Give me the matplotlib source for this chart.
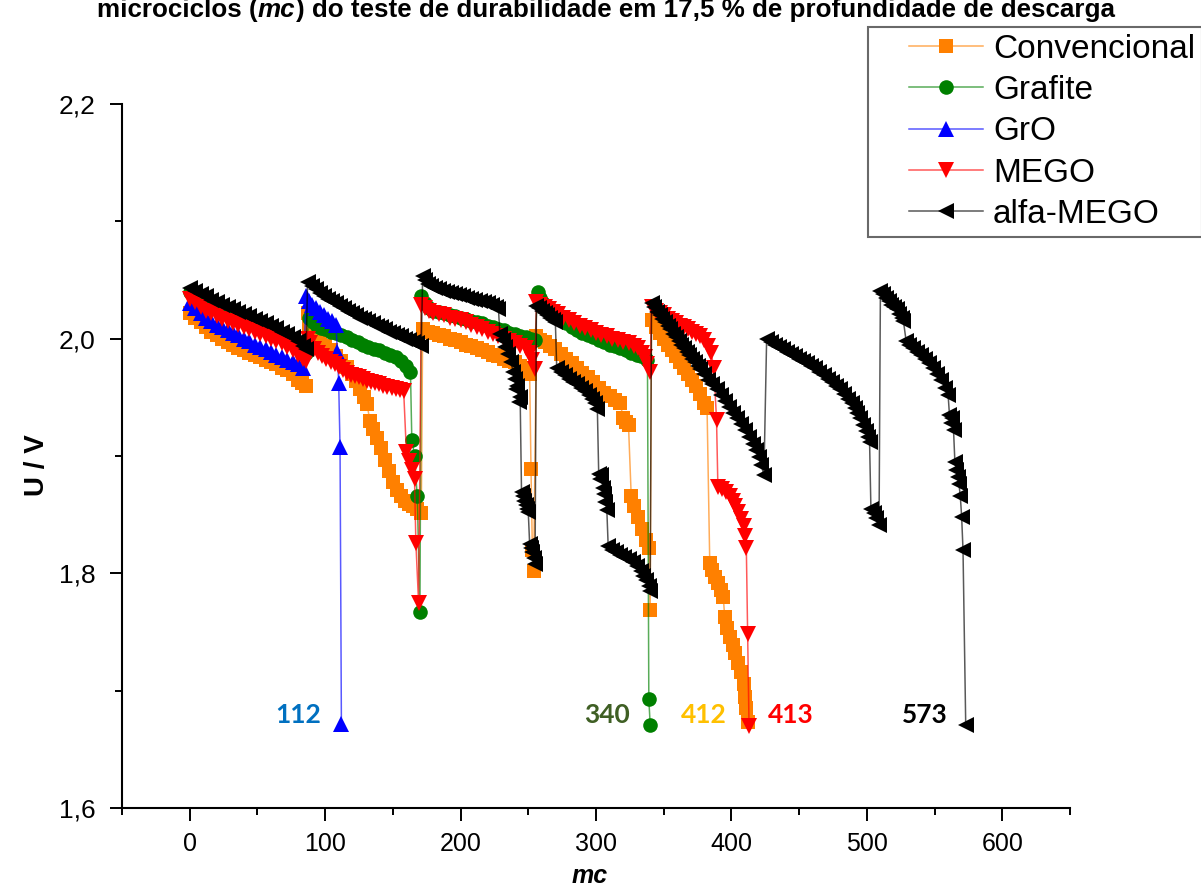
import matplotlib
matplotlib.use("Agg")
import matplotlib.pyplot as plt
from matplotlib.ticker import MultipleLocator, FuncFormatter
from matplotlib.legend_handler import HandlerLine2D

plt.rcParams['font.family'] = ['Liberation Sans', 'DejaVu Sans']

# ---- data: microcycle number (mc) and cell voltage U / V ----
conv_mc = [0, 4, 8, 12, 16, 20, 24, 28, 32, 36, 40, 44, 48, 52, 56, 60, 64, 68, 72, 76, 80, 83, 86,
           87, 88, 90, 93, 96, 100, 104, 108, 112, 116, 120, 123, 126, 129, 131, 133, 135, 138, 141, 144, 147, 150, 153, 156, 159, 162, 165, 168, 171,
           172, 176, 180, 184, 188, 192, 196, 200, 204, 208, 212, 216, 220, 224, 228, 232, 236, 240, 244, 248, 251, 252, 253, 254,
           256, 259, 262, 266, 270, 274, 278, 282, 286, 290, 294, 298, 302, 306, 310, 314, 318, 320, 322, 324, 326, 328, 331, 334, 337, 339, 340,
           341, 344, 347, 350, 353, 356, 359, 362, 365, 368, 371, 374, 377, 380, 382, 384, 386, 388, 390, 392, 394, 395, 397, 399, 401, 403, 405, 407, 409, 410, 411, 412]
conv_u = [2.022, 2.018, 2.014, 2.010, 2.006, 2.003, 2.000, 1.997, 1.995, 1.992, 1.990, 1.988, 1.986, 1.984, 1.982, 1.980, 1.978, 1.975, 1.973, 1.970, 1.965, 1.962, 1.960,
          2.022, 2.012, 2.005, 2.000, 1.997, 1.994, 1.990, 1.985, 1.981, 1.976, 1.970, 1.964, 1.957, 1.950, 1.944, 1.930, 1.923, 1.915, 1.907, 1.897, 1.887, 1.878, 1.871, 1.866, 1.862, 1.859, 1.857, 1.855, 1.851,
          2.008, 2.006, 2.005, 2.003, 2.002, 2.000, 1.999, 1.997, 1.995, 1.994, 1.992, 1.990, 1.989, 1.986, 1.985, 1.983, 1.981, 1.980, 1.977, 1.975, 1.970, 1.889, 1.820, 1.802,
          2.002, 1.999, 1.997, 1.994, 1.991, 1.987, 1.983, 1.979, 1.975, 1.971, 1.967, 1.963, 1.958, 1.954, 1.951, 1.948, 1.945, 1.932, 1.929, 1.926, 1.866, 1.857, 1.848, 1.838, 1.828, 1.822, 1.769,
          2.016, 2.010, 2.005, 2.000, 1.995, 1.990, 1.985, 1.980, 1.975, 1.970, 1.965, 1.960, 1.953, 1.945, 1.941, 1.809, 1.803, 1.797, 1.792, 1.786, 1.780, 1.763, 1.753, 1.746, 1.739, 1.732, 1.724, 1.716, 1.706, 1.695, 1.685, 1.673]

graf_mc = [0, 4, 8, 12, 16, 20, 24, 28, 32, 36, 40, 44, 48, 52, 56, 60, 64, 68, 72, 76, 80, 84, 86,
           88, 91, 94, 97, 100, 104, 108, 112, 116, 120, 124, 128, 132, 136, 140, 144, 148, 152, 156, 160, 163, 164, 166, 168, 170,
           171, 174, 177, 180, 184, 188, 192, 196, 200, 204, 208, 212, 216, 220, 224, 228, 232, 236, 240, 244, 248, 252, 255,
           257, 259, 261, 264, 267, 270, 274, 278, 282, 286, 290, 294, 298, 302, 306, 310, 314, 318, 322, 326, 330, 333, 336, 338, 339, 340]
graf_u = [2.040, 2.038, 2.035, 2.033, 2.030, 2.028, 2.026, 2.024, 2.022, 2.020, 2.018, 2.016, 2.014, 2.012, 2.010, 2.008, 2.006, 2.003, 2.001, 1.998, 1.995, 1.991, 1.988,
          2.018, 2.014, 2.011, 2.009, 2.008, 2.006, 2.005, 2.003, 2.001, 1.999, 1.997, 1.995, 1.993, 1.991, 1.990, 1.988, 1.986, 1.984, 1.981, 1.977, 1.972, 1.914, 1.900, 1.866, 1.767,
          2.036, 2.030, 2.026, 2.024, 2.023, 2.022, 2.020, 2.019, 2.018, 2.017, 2.015, 2.014, 2.013, 2.011, 2.010, 2.008, 2.007, 2.005, 2.004, 2.002, 2.001, 2.000, 1.999,
          2.040, 2.035, 2.030, 2.025, 2.022, 2.019, 2.016, 2.013, 2.010, 2.007, 2.005, 2.003, 2.001, 1.999, 1.997, 1.995, 1.994, 1.992, 1.990, 1.988, 1.986, 1.985, 1.984, 1.982, 1.693, 1.671]

gro_mc = [0, 4, 8, 12, 16, 20, 24, 28, 32, 36, 40, 44, 48, 52, 56, 60, 64, 68, 72, 76, 80, 84,
          86, 88, 90, 93, 96, 99, 102, 105, 108, 109, 110, 111, 112]
gro_u = [2.030, 2.026, 2.022, 2.018, 2.015, 2.012, 2.010, 2.007, 2.005, 2.003, 2.000, 1.998, 1.995, 1.993, 1.991, 1.989, 1.986, 1.984, 1.982, 1.980, 1.978, 1.975,
         2.036, 2.032, 2.029, 2.026, 2.023, 2.020, 2.017, 2.015, 2.012, 1.989, 1.962, 1.908, 1.672]

mego_mc = [0, 4, 8, 12, 16, 20, 24, 28, 32, 36, 40, 44, 48, 52, 56, 60, 64, 68, 72, 76, 80, 84, 86,
           87, 89, 92, 95, 98, 101, 104, 107, 110, 113, 116, 119, 122, 125, 128, 131, 134, 137, 140, 143, 146, 149, 152, 155, 158, 160, 162, 164, 166, 167, 169,
           171, 174, 177, 180, 184, 188, 192, 196, 200, 204, 208, 212, 216, 220, 224, 228, 232, 236, 240, 244, 248, 251, 253, 255,
           256, 259, 262, 265, 268, 272, 276, 280, 284, 288, 292, 296, 300, 304, 308, 312, 316, 320, 324, 328, 331, 334, 336, 338, 340,
           341, 344, 347, 350, 353, 356, 359, 362, 365, 368, 371, 374, 377, 380, 383, 385, 387, 389, 390, 393, 396, 399, 401, 403, 405, 407, 409, 410, 411, 412, 413]
mego_u = [2.034, 2.031, 2.027, 2.024, 2.022, 2.019, 2.017, 2.015, 2.013, 2.012, 2.010, 2.008, 2.006, 2.004, 2.002, 2.000, 1.998, 1.996, 1.993, 1.990, 1.986, 1.983, 1.981,
          2.000, 1.996, 1.991, 1.988, 1.985, 1.983, 1.980, 1.978, 1.976, 1.973, 1.971, 1.969, 1.968, 1.967, 1.966, 1.964, 1.963, 1.962, 1.961, 1.960, 1.959, 1.958, 1.957, 1.956, 1.955, 1.903, 1.896, 1.888, 1.880, 1.826, 1.775,
          2.029, 2.026, 2.024, 2.022, 2.021, 2.020, 2.018, 2.017, 2.016, 2.014, 2.012, 2.010, 2.008, 2.006, 2.004, 2.002, 2.000, 1.998, 1.996, 1.994, 1.992, 1.988, 1.982, 1.974,
          2.031, 2.029, 2.027, 2.025, 2.023, 2.021, 2.018, 2.016, 2.013, 2.011, 2.009, 2.007, 2.005, 2.003, 2.002, 2.000, 1.999, 1.997, 1.996, 1.994, 1.992, 1.988, 1.984, 1.978, 1.972,
          2.027, 2.024, 2.022, 2.020, 2.017, 2.015, 2.013, 2.011, 2.010, 2.008, 2.006, 2.004, 2.002, 1.999, 1.994, 1.988, 1.975, 1.931, 1.874, 1.872, 1.869, 1.866, 1.862, 1.857, 1.852, 1.846, 1.840, 1.832, 1.822, 1.748, 1.670]

alfa_mc = [0, 4, 8, 12, 16, 20, 24, 28, 32, 36, 40, 44, 48, 52, 56, 60, 64, 68, 72, 76, 80, 84, 86,
           87, 90, 93, 96, 99, 102, 105, 108, 111, 114, 117, 120, 123, 126, 129, 132, 135, 138, 141, 144, 147, 150, 153, 156, 159, 162, 165, 168, 171,
           172, 174, 176, 178, 181, 184, 187, 190, 193, 196, 199, 202, 205, 208, 211, 214, 217, 220, 223, 226, 228,
           229, 231, 233, 235, 237, 239, 240, 241, 242, 243, 244, 245, 246, 247, 248, 249, 250, 251, 252, 253, 254, 255,
           256, 258, 260, 262, 264, 266, 268, 270, 271, 274, 277, 280, 283, 286, 289, 292, 295, 297, 299, 301,
           302, 303, 304, 305, 306, 307, 308, 309, 312, 315, 318, 321, 324, 327, 330, 333, 335, 337, 339, 340,
           341, 343, 345, 347, 349, 351, 353, 355, 357, 359, 361, 363, 365, 367, 369, 371, 373, 375, 377,
           380, 383, 386, 389, 392, 395, 398, 401, 404, 407, 410, 413, 416, 418, 420, 422, 424,
           426, 429, 432, 435, 438, 441, 444, 447, 450, 453, 456, 459, 462, 465, 468, 471, 474, 477, 480, 483, 486, 489,
           491, 493, 495, 497, 499, 501, 502, 503, 505, 507, 509,
           510, 512, 514, 516, 518, 520, 522, 524, 526, 527, 529, 531, 534, 537, 540, 543, 546, 549, 552, 555, 558, 560,
           561, 562, 563, 564, 565, 566, 567, 568, 569, 570, 571, 573]
alfa_u = [2.043, 2.041, 2.038, 2.036, 2.033, 2.031, 2.029, 2.027, 2.025, 2.023, 2.021, 2.019, 2.017, 2.015, 2.013, 2.011, 2.009, 2.006, 2.004, 2.001, 1.998, 1.994, 1.991,
          2.048, 2.045, 2.042, 2.039, 2.036, 2.034, 2.032, 2.030, 2.028, 2.026, 2.024, 2.022, 2.020, 2.018, 2.017, 2.015, 2.013, 2.011, 2.010, 2.008, 2.006, 2.005, 2.003, 2.002, 2.000, 1.999, 1.997, 1.996, 1.994,
          2.053, 2.050, 2.047, 2.045, 2.043, 2.042, 2.041, 2.040, 2.039, 2.038, 2.037, 2.036, 2.035, 2.034, 2.033, 2.032, 2.031, 2.030, 2.029, 2.027, 2.025,
          2.004, 1.999, 1.993, 1.987, 1.980, 1.972, 1.966, 1.957, 1.960, 1.946, 1.950, 1.869, 1.866, 1.862, 1.858, 1.855, 1.852, 1.825, 1.822, 1.818, 1.813, 1.808,
          2.028, 2.026, 2.024, 2.022, 2.020, 2.018, 2.016, 2.014, 1.975, 1.972, 1.969, 1.966, 1.963, 1.961, 1.958, 1.955, 1.952, 1.949, 1.945, 1.940,
          1.885, 1.880, 1.884, 1.873, 1.868, 1.861, 1.854, 1.823, 1.820, 1.818, 1.816, 1.814, 1.812, 1.810, 1.806, 1.802, 1.798, 1.794, 1.789, 1.785,
          2.030, 2.027, 2.023, 2.020, 2.017, 2.014, 2.011, 2.008, 2.004, 2.001, 1.998, 1.995, 1.992, 1.989, 1.986, 1.983, 1.980, 1.977, 1.974,
          1.970, 1.965, 1.961, 1.957, 1.952, 1.947, 1.942, 1.937, 1.932, 1.927, 1.922, 1.916, 1.910, 1.905, 1.899, 1.892, 1.884,
          2.000, 1.997, 1.995, 1.993, 1.991, 1.989, 1.987, 1.985, 1.983, 1.981, 1.979, 1.977, 1.975, 1.972, 1.969, 1.966, 1.963, 1.960, 1.957, 1.953, 1.949, 1.945,
          1.941, 1.937, 1.932, 1.926, 1.921, 1.916, 1.912, 1.855, 1.851, 1.847, 1.841,
          2.041, 2.038, 2.035, 2.032, 2.029, 2.027, 2.025, 2.021, 2.018, 2.015, 1.998, 1.995, 1.992, 1.989, 1.986, 1.983, 1.979, 1.975, 1.970, 1.965, 1.958, 1.952,
          1.935, 1.928, 1.932, 1.922, 1.895, 1.888, 1.882, 1.876, 1.866, 1.848, 1.820, 1.671]

series_names = ["Convencional", "Grafite", "GrO", "MEGO", "alfa-MEGO"]
y_ticks = [1.6, 1.8, 2.0, 2.2]

# ---- figure ----
fig = plt.figure(figsize=(12.01, 8.86), dpi=100)
ax = fig.add_axes([122 / 1201, 1 - 808 / 886, (1070 - 122) / 1201, (808 - 104) / 886])

styles = [
    ("#FF8000", "s", 10.0),
    ("#008000", "o", 10.5),
    ("#0000FF", "^", 12.0),
    ("#FF0000", "v", 12.0),
    ("#000000", "<", 12.0),
]
data = [(conv_mc, conv_u), (graf_mc, graf_u), (gro_mc, gro_u), (mego_mc, mego_u), (alfa_mc, alfa_u)]

for name, (x, y), (c, m, ms) in zip(series_names, data, styles):
    rgb = matplotlib.colors.to_rgb(c)
    ax.plot(x, y, color=(*rgb, 0.65), lw=1.1, marker=m, ms=ms,
            mfc=c, mec=c, mew=0, label=name)

ax.set_xlim(-50, 650)
ax.set_ylim(1.6, 2.2)
ax.spines[['top', 'right']].set_visible(False)
for s in ('left', 'bottom'):
    ax.spines[s].set_linewidth(1.5)

ax.xaxis.set_major_locator(MultipleLocator(100))
ax.xaxis.set_minor_locator(MultipleLocator(50))
ax.set_yticks(y_ticks)
ax.yaxis.set_minor_locator(MultipleLocator(0.1))
ax.yaxis.set_major_formatter(FuncFormatter(lambda v, p: f"{v:.1f}".replace(".", ",")))
ax.tick_params(which='major', direction='out', length=9, width=1.4)
ax.tick_params(which='minor', direction='out', length=5, width=1.4)
ax.tick_params(axis='x', which='major', labelsize=18, pad=8)
ax.tick_params(axis='y', which='major', labelsize=19, pad=10)

ax.set_xlabel("mc", fontsize=18, fontweight='bold', fontstyle='italic')
ax.set_ylabel("U / V", fontsize=20, fontweight='bold')
ax.xaxis.set_label_coords((590 - 122) / 948, -(864 - 808) / 704)
ax.yaxis.set_label_coords((50 - 122) / 948, (808 - 465) / 704)

# end-of-life annotations (last microcycle of each material)
end_colors = ["#FFC000", "#3F5F24", "#0070C0", "#FF0000", "#000000"]
label_x = [380, 308, 80, 443.5, 543]
for (x, _), col, lx in zip(data, end_colors, label_x):
    ax.text(lx, 1.679, str(x[-1]), color=col, fontsize=19, fontweight='bold',
            family=['Lato', 'DejaVu Sans'], ha='center', va='center')


# legend: line drawn over the right part of the handle box
class OffsetLineHandler(HandlerLine2D):
    def get_xdata(self, legend, xdescent, ydescent, width, height, fontsize):
        start = -xdescent + 0.32 * width
        end = -xdescent + width
        return [start, end], [0.5 * (start + end)]


leg = ax.legend(loc='upper left', bbox_to_anchor=(868 / 1201, 1 - 27 / 886),
                bbox_transform=fig.transFigure, fontsize=24, frameon=True,
                fancybox=False, borderpad=0.2, labelspacing=0.31,
                handlelength=3.25, handletextpad=0.3, borderaxespad=0,
                handler_map={matplotlib.lines.Line2D: OffsetLineHandler(numpoints=1)})
leg.get_frame().set_edgecolor('#444444')
leg.get_frame().set_linewidth(1.5)

# title with italic "mc"
fig.canvas.draw()
renderer = fig.canvas.get_renderer()
parts = [("microciclos (", 'normal'), ("mc", 'italic'),
         (") do teste de durabilidade em 17,5 % de profundidade de descarga", 'normal')]
texts = [fig.text(0, 1 - 17 / 886, s, fontsize=18.7, fontweight='bold', fontstyle=st,
                  ha='left', va='baseline') for s, st in parts]
widths = [t.get_window_extent(renderer).width for t in texts]
x0 = 606 - sum(widths) / 2
for t, w in zip(texts, widths):
    t.set_x(x0 / 1201)
    x0 += w

fig.savefig("out.png", dpi=100)
